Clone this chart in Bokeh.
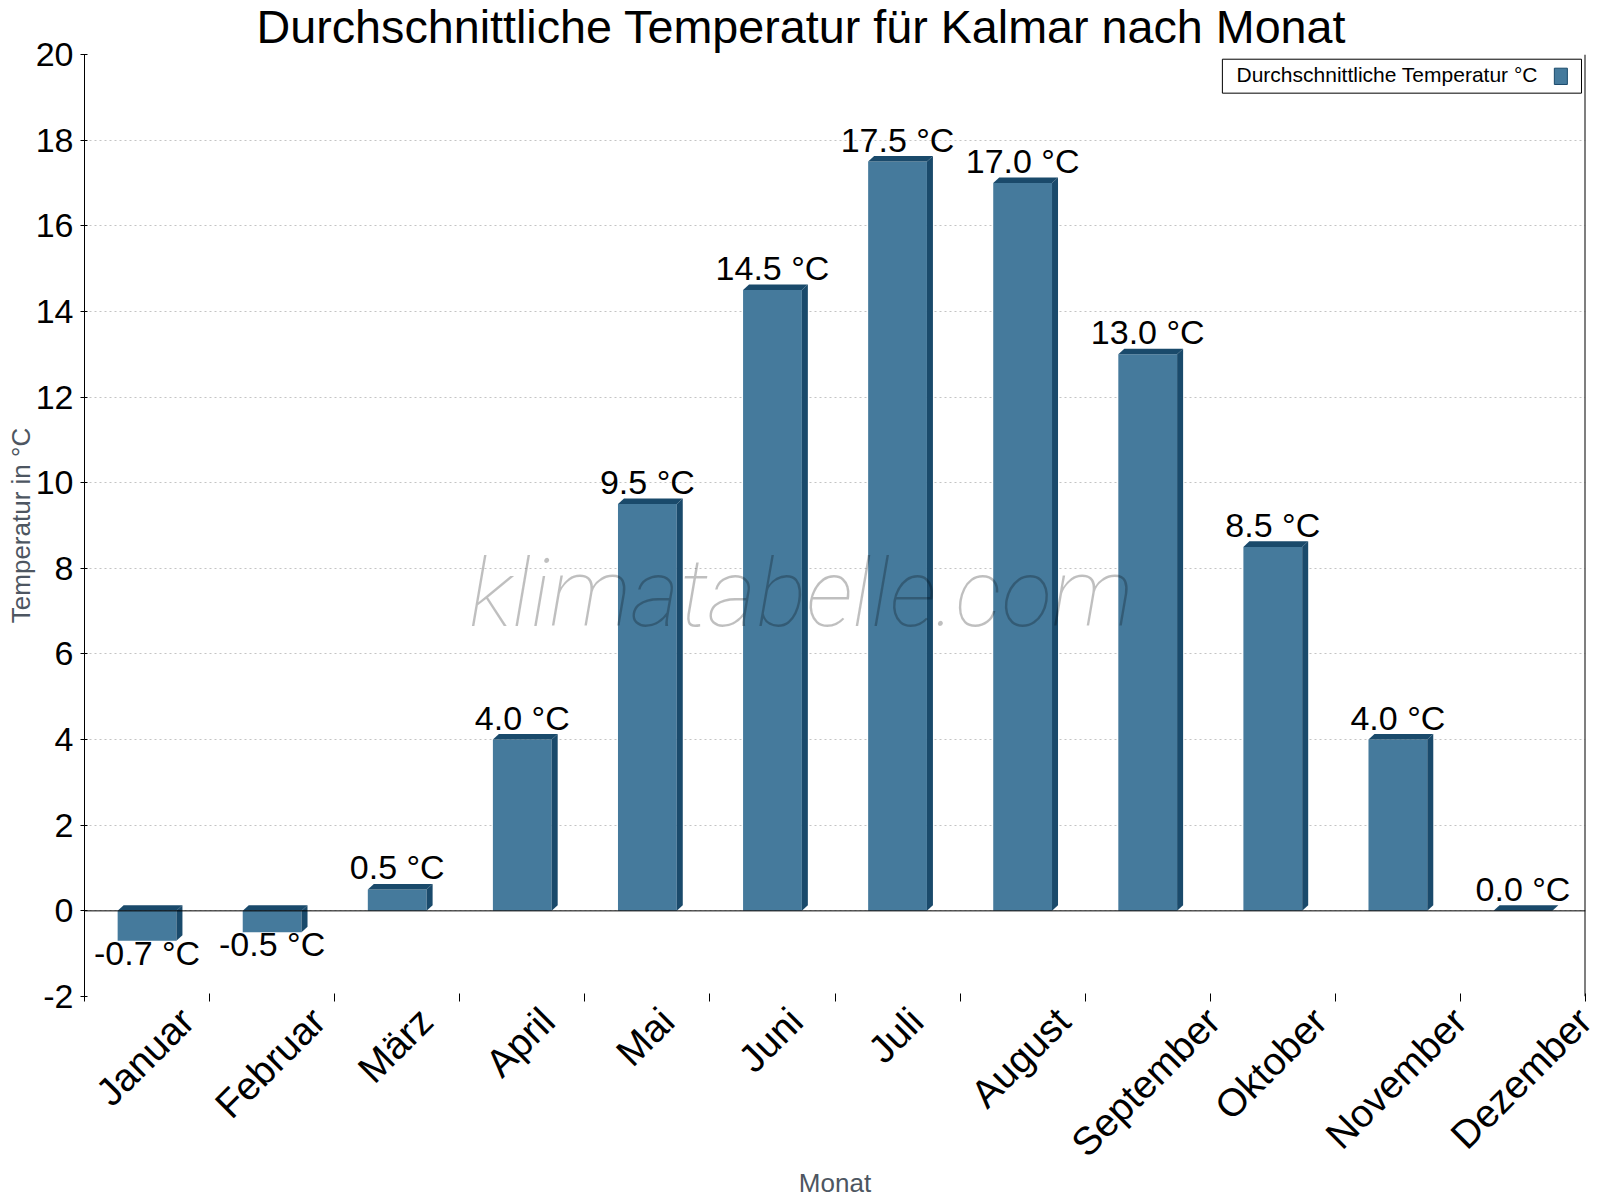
import math
from bokeh.plotting import figure
from bokeh.models import (ColumnDataSource, FixedTicker, Span, BoxAnnotation, Label,
                          Range1d, LinearAxis)
from bokeh.core.properties import value
from bokeh.embed import file_html
from bokeh.resources import INLINE

# ---- data ----
months = ["Januar", "Februar", "März", "April", "Mai", "Juni",
          "Juli", "August", "September", "Oktober", "November", "Dezember"]
temps = [-0.7, -0.5, 0.5, 4.0, 9.5, 14.5, 17.5, 17.0, 13.0, 8.5, 4.0, 0.0]
y_ticks = [-2, 0, 2, 4, 6, 8, 10, 12, 14, 16, 18, 20]
y_tick_labels = ["-2", "0", "2", "4", "6", "8", "10", "12", "14", "16", "18", "20"]
title_text = "Durchschnittliche Temperatur für Kalmar nach Monat"
series_name = "Durchschnittliche Temperatur °C"
x_title = "Monat"
y_title = "Temperatur in °C"
watermark = "klimatabelle.com"

FONT = "Liberation Sans"
FRONT = "#457a9c"
DARK = "#1a4a6b"

# approximate advance widths (1/1000 em) of Liberation Sans, used to centre rotated labels
CHAR_W = {"J": 500, "a": 556, "n": 556, "u": 556, "r": 333, "F": 611, "e": 556, "b": 556,
          "M": 833, "ä": 556, "z": 500, "A": 667, "p": 556, "i": 222, "l": 222, "g": 556,
          "s": 500, "t": 278, "S": 667, "m": 833, "O": 778, "k": 500, "o": 556, "N": 722,
          "v": 500, "D": 722}

U = 100                      # x units per category
n = len(months)
FRAME_W = 1501
PX_PER_U = FRAME_W / (n * U)
XLAB_SIZE = 39

centers = [i * U + U // 2 for i in range(n)]
bounds = [i * U for i in range(n + 1)]
bw = 47          # bar front width (units)
dx = 4.8         # depth in x (units)
dy = 0.13        # depth in y (data)

tops = [max(v, 0) for v in temps]
bots = [min(v, 0) for v in temps]
labels = [f"{v:.1f} °C" for v in temps]

top_xs, top_ys, side_xs, side_ys = [], [], [], []
for c, t, b in zip(centers, tops, bots):
    xl, xr = c - bw / 2, c + bw / 2
    top_xs.append([xl, xl + dx, xr + dx, xr])
    top_ys.append([t, t + dy, t + dy, t])
    side_xs.append([xr, xr, xr + dx, xr + dx])
    side_ys.append([b, t, t + dy, b + dy])

# axis range: a = 3*x - 1200 maps onto the same frame as x in (0, 1200)
def to_ax(x):
    return int(round(3 * x - n * U))

label_pos = []
for c, m in zip(centers, months):
    w_px = sum(CHAR_W.get(ch, 556) for ch in m) / 1000 * XLAB_SIZE
    label_pos.append(to_ax(c + (w_px / 2 * math.cos(math.pi / 4) - 2) / PX_PER_U))
bounds_ax = [to_ax(b) for b in bounds]

p = figure(width=1600, height=1200, x_range=(0, n * U), y_range=(-2, 20),
           x_axis_type=None,
           output_backend="svg", toolbar_location=None,
           min_border_left=84, min_border_right=15, min_border_top=53, min_border_bottom=204)
p.outline_line_color = None
p.background_fill_color = "white"
p.extra_x_ranges = {"ax": Range1d(-n * U, 2 * n * U)}

# title
p.title.text = title_text
p.title.align = "left"
p.title.offset = 172
p.title.standoff = 0
p.title.vertical_align = "top"
p.title.text_font = FONT
p.title.text_font_size = "46.7px"
p.title.text_font_style = "normal"
p.title.text_color = "black"

# grid
p.ygrid.ticker = FixedTicker(ticks=y_ticks)
p.ygrid.grid_line_color = "#c4c4c4"
p.ygrid.grid_line_dash = "2 3"
p.ygrid.grid_line_width = 1

# y axis
p.yaxis.ticker = FixedTicker(ticks=y_ticks)
p.yaxis.major_label_overrides = {t: s for t, s in zip(y_ticks, y_tick_labels)}
p.yaxis.axis_label = y_title
p.yaxis.axis_label_text_font = FONT
p.yaxis.axis_label_text_font_size = "26px"
p.yaxis.axis_label_text_font_style = "normal"
p.yaxis.axis_label_text_color = "#4d5661"
p.yaxis.axis_label_standoff = -3
p.yaxis.major_label_text_font = FONT
p.yaxis.major_label_text_font_size = "34px"
p.yaxis.major_label_text_color = "black"
p.yaxis.axis_line_color = "black"
p.yaxis.major_tick_line_color = "black"
p.yaxis.major_tick_out = 4
p.yaxis.major_tick_in = 3
p.yaxis.minor_tick_line_color = None
p.yaxis.major_label_standoff = 7

# x axis: tick marks at category boundaries (minor), rotated labels centred on categories
xaxis = LinearAxis(x_range_name="ax",
                   ticker=FixedTicker(ticks=label_pos, minor_ticks=bounds_ax),
                   major_label_overrides={pos: m for pos, m in zip(label_pos, months)},
                   major_label_orientation=math.pi / 4,
                   major_label_text_font=FONT,
                   major_label_text_font_size=f"{XLAB_SIZE}px",
                   major_label_text_color="black",
                   major_label_standoff=12,
                   major_tick_line_color=None,
                   minor_tick_line_color="black",
                   minor_tick_out=5, minor_tick_in=3,
                   axis_line_color=None,
                   axis_label=x_title,
                   axis_label_text_font=FONT,
                   axis_label_text_font_size="26px",
                   axis_label_text_font_style="normal",
                   axis_label_text_color="#4d5661",
                   axis_label_standoff=-15)
p.add_layout(xaxis, "below")

# zero line and right border
p.add_layout(Span(location=0, dimension="width", line_color="black", line_width=1))
p.add_layout(Span(location=n * U, dimension="height", line_color="black", line_width=2))

# bars
src = ColumnDataSource(dict(x=centers, top=tops, bottom=bots, label=labels, v=temps))
p.vbar(x="x", width=bw, top="top", bottom="bottom", source=src,
       fill_color=FRONT, line_color=None)
p.patches(xs=side_xs, ys=side_ys, fill_color=DARK, line_color=None)
p.patches(xs=top_xs, ys=top_ys, fill_color=DARK, line_color=None)

# value labels
pos = [i for i, v in enumerate(temps) if v >= 0]
neg = [i for i, v in enumerate(temps) if v < 0]
p.text(x=[centers[i] for i in pos], y=[tops[i] for i in pos], text=[labels[i] for i in pos],
       text_align="center", text_baseline="alphabetic", y_offset=-22,
       text_font=value(FONT), text_font_size="34px", text_color="black")
p.text(x=[centers[i] for i in neg], y=[bots[i] for i in neg], text=[labels[i] for i in neg],
       text_align="center", text_baseline="alphabetic", y_offset=12,
       text_font=value(FONT), text_font_size="34px", text_color="black")

# watermark
p.add_layout(Label(x=573, y=7.4, text=watermark, text_align="center", text_baseline="alphabetic",
                   text_font="Roboto Thin, Roboto Light, Roboto", text_font_style="italic",
                   text_font_size="94px", text_color="black", text_alpha=0.25))

# legend (manual, glyph to the right of the text)
p.add_layout(BoxAnnotation(left=909.7, right=1196.8, bottom=19.097, top=19.89,
                           fill_color="white", fill_alpha=1.0, line_color="black",
                           line_width=1, line_alpha=1.0))
p.add_layout(Label(x=921, y=19.54, text=series_name, text_align="left",
                   text_baseline="alphabetic", text_font=FONT, text_font_size="21px",
                   text_color="black"))
p.add_layout(BoxAnnotation(left=1175.1, right=1185.5, bottom=19.30, top=19.68,
                           fill_color=FRONT, fill_alpha=1.0, line_color=DARK,
                           line_width=1, line_alpha=1.0))

open("out.html", "w").write(file_html(p, INLINE))
